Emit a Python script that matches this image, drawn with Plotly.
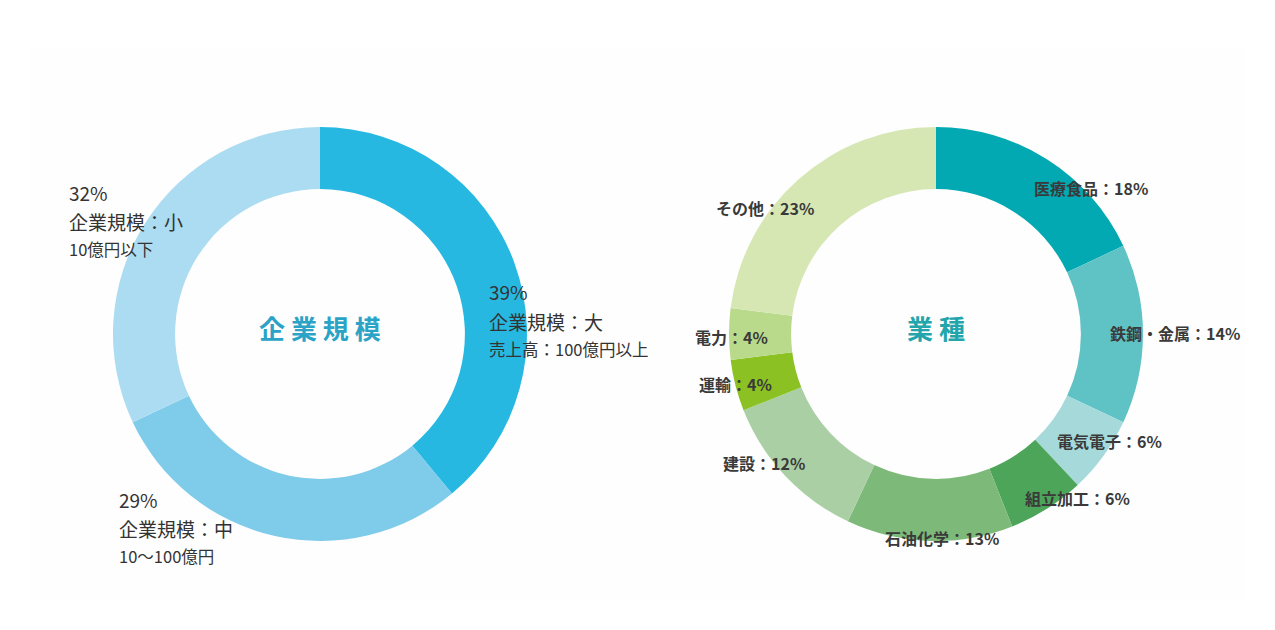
import plotly.graph_objects as go

# company size donut
size_labels = ["企業規模：大", "企業規模：中", "企業規模：小"]
size_values = [39, 29, 32]
size_colors = ["#27b8e2", "#7ecbea", "#acdcf1"]
size_subs = ["売上高：100億円以上", "10～100億円", "10億円以下"]

# industry donut
ind_labels = ["医療食品", "鉄鋼・金属", "電気電子", "組立加工", "石油化学",
              "建設", "運輸", "電力", "その他"]
ind_values = [18, 14, 6, 6, 13, 12, 4, 4, 23]
ind_colors = ["#02a9b2", "#5fc2c4", "#a5d9da", "#4da55a", "#7db979",
              "#abcfa5", "#8bc123", "#b9da8b", "#d6e7b4"]

W, H = 1275, 630
OFF = 8  # page body margin
FONT = "Noto Sans CJK JP"


def px(x, y):
    return (x - OFF) / W, 1 - (y - OFF) / H


def domain(cx, cy, r):
    x0, y1 = px(cx - r, cy - r)
    x1, y0 = px(cx + r, cy + r)
    return dict(x=[x0, x1], y=[y0, y1])


fig = go.Figure()
fig.add_trace(go.Pie(labels=size_labels, values=size_values, hole=0.70, sort=False,
                     direction="clockwise", rotation=0, textinfo="none",
                     marker=dict(colors=size_colors, line=dict(width=0)),
                     domain=domain(320, 334, 207), hoverinfo="label+percent"))
fig.add_trace(go.Pie(labels=ind_labels, values=ind_values, hole=0.70, sort=False,
                     direction="clockwise", rotation=0, textinfo="none",
                     marker=dict(colors=ind_colors, line=dict(width=0)),
                     domain=domain(936, 334, 207), hoverinfo="label+percent"))

annotations = []


def add_text(text, x, y, size, color="#333333", anchor="left"):
    ax, ay = px(x, y)
    annotations.append(dict(text=text, x=ax, y=ay, xref="paper", yref="paper",
                            xanchor=anchor, yanchor="middle", showarrow=False,
                            font=dict(family=FONT, size=size, color=color)))


# left labels: (x, y of first line) for 大, 中, 小
size_pos = [(487, 292), (117, 499), (67, 192)]
for lab, val, sub, (x, y) in zip(size_labels, size_values, size_subs, size_pos):
    add_text(f"{val}%", x, y, 19)
    add_text(lab, x, y + 29, 19)
    add_text(sub, x, y + 57, 16.5)

# right labels, centred
ind_pos = [(1091, 188), (1175, 333), (1109, 441), (1077, 498), (942, 538),
           (764, 463), (735, 384), (731, 337), (765, 208)]
for lab, val, (x, y) in zip(ind_labels, ind_values, ind_pos):
    add_text(f"<b>{lab}：{val}%</b>", x, y, 16, color="#3a3a3a", anchor="center")

add_text("<b>企 業 規 模</b>", 320, 327, 26, color="#2aa3c6", anchor="center")
add_text("<b>業 種</b>", 936, 327, 26, color="#22a5ac", anchor="center")

bx0, by1 = px(30, 47)
bx1, by0 = px(1245, 600)
fig.update_layout(
    width=W, height=H,
    margin=dict(l=0, r=0, t=0, b=0),
    paper_bgcolor="white",
    showlegend=False,
    annotations=annotations,
    shapes=[dict(type="rect", xref="paper", yref="paper", x0=bx0, x1=bx1,
                 y0=by0, y1=by1, fillcolor="#fefefe",
                 line=dict(width=0), layer="below")],
)

fig.write_html("out.html")
